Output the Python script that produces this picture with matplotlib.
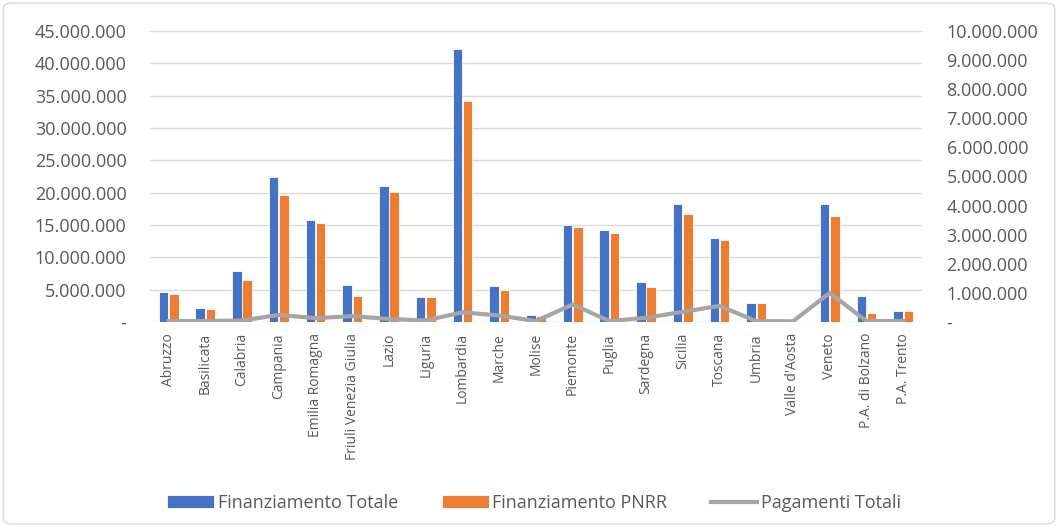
import numpy as np
import matplotlib
matplotlib.use('agg')
import matplotlib.pyplot as plt
from matplotlib.patches import FancyBboxPatch
from matplotlib.ticker import FuncFormatter, MultipleLocator

regioni = ["Abruzzo", "Basilicata", "Calabria", "Campania", "Emilia Romagna",
           "Friuli Venezia Giulia", "Lazio", "Liguria", "Lombardia", "Marche",
           "Molise", "Piemonte", "Puglia", "Sardegna", "Sicilia", "Toscana",
           "Umbria", "Valle d'Aosta", "Veneto", "P.A. di Bolzano", "P.A. Trento"]
fin_totale = [4.6e6, 2.2e6, 7.9e6, 22.4e6, 15.8e6, 5.7e6, 21.1e6, 3.8e6, 42.2e6, 5.5e6,
              1.1e6, 15.0e6, 14.2e6, 6.2e6, 18.2e6, 13.0e6, 3.0e6, 0.1e6, 18.2e6, 4.0e6, 1.7e6]
fin_pnrr = [4.3e6, 2.0e6, 6.5e6, 19.6e6, 15.3e6, 4.0e6, 20.1e6, 3.8e6, 34.2e6, 5.0e6,
            0.9e6, 14.7e6, 13.7e6, 5.4e6, 16.7e6, 12.6e6, 3.0e6, 0.1e6, 16.4e6, 1.4e6, 1.7e6]
pagamenti = [0.03e6, 0.03e6, 0.05e6, 0.24e6, 0.13e6, 0.2e6, 0.1e6, 0.05e6, 0.33e6, 0.22e6,
             0.03e6, 0.6e6, 0.03e6, 0.14e6, 0.35e6, 0.55e6, 0.03e6, 0.02e6, 1.0e6, 0.03e6, 0.03e6]

blu = "#4472C4"
arancio = "#ED7D31"
grigio = "#A5A5A5"
testo = "#595959"

plt.rcParams['font.family'] = ['Open Sans', 'DejaVu Sans']


def fmt(v, pos):
    if v == 0:
        return "-"
    return f"{v:,.0f}".replace(",", ".")


fig = plt.figure(figsize=(10.58, 5.26), dpi=100)
ax = fig.add_axes([0.142, 0.388, 0.729, 0.553])
ax2 = ax.twinx()

x = np.arange(len(regioni))
ax.bar(x - 0.14, fin_totale, width=0.26, color=blu, edgecolor="white", linewidth=0.6,
       label="Finanziamento Totale", zorder=2)
ax.bar(x + 0.14, fin_pnrr, width=0.26, color=arancio, edgecolor="white", linewidth=0.6,
       label="Finanziamento PNRR", zorder=2)
ax2.plot(x, pagamenti, color=grigio, linewidth=3, label="Pagamenti Totali", zorder=3)

ax.set_xlim(-0.5, len(regioni) - 0.5)
ax.set_ylim(0, 45e6)
ax2.set_ylim(0, 10e6)
ax.yaxis.set_major_locator(MultipleLocator(5e6))
ax2.yaxis.set_major_locator(MultipleLocator(1e6))
ax.yaxis.set_major_formatter(FuncFormatter(fmt))
ax2.yaxis.set_major_formatter(FuncFormatter(fmt))

ax.grid(axis="y", color="#D9D9D9", linewidth=1.0, zorder=0)
ax.set_axisbelow(True)
for a in (ax, ax2):
    for s in a.spines.values():
        s.set_visible(False)
    a.tick_params(length=0, labelsize=13, colors=testo)
ax.tick_params(axis="y", pad=17)
ax2.tick_params(axis="y", pad=18)

ax.set_xticks(x)
ax.set_xticklabels(regioni, rotation=90, fontsize=10, color=testo)
ax.tick_params(axis="x", pad=8)

h1, l1 = ax.get_legend_handles_labels()
h2, l2 = ax2.get_legend_handles_labels()
fig.legend(h1 + h2, l1 + l2, loc="center", bbox_to_anchor=(0.505, 0.044), ncol=3,
           frameon=False, fontsize=13, labelcolor=testo, columnspacing=2.4,
           handlelength=2.6, handletextpad=0.2)

bordo = FancyBboxPatch((0.003, 0.004), 0.994, 0.99, boxstyle="round,pad=0,rounding_size=0.01",
                       transform=fig.transFigure, facecolor="none", edgecolor="#D9D9D9", linewidth=1)
fig.patches.append(bordo)

fig.savefig("out.png", dpi=100)
